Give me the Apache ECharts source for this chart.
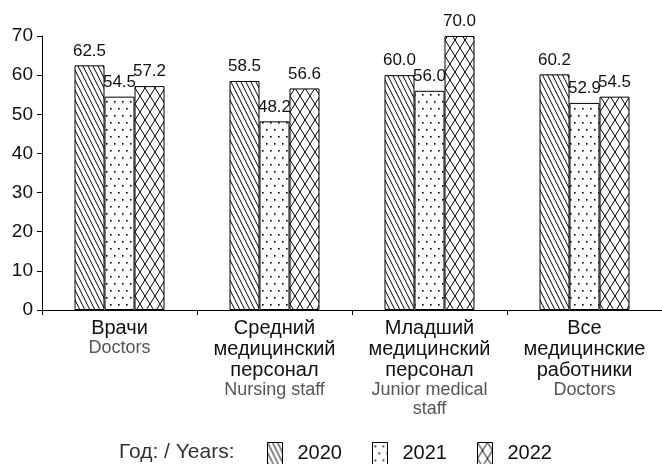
<!DOCTYPE html>
<html><head><meta charset="utf-8">
<script src="https://cdn.jsdelivr.net/npm/echarts@6/dist/echarts.min.js"></script>
<style>html,body{margin:0;padding:0;background:#fff}#c{width:662px;height:464px}</style>
</head><body><div id="c"></div>
<script>
const categoriesRu = ["Врачи", "Средний\nмедицинский\nперсонал", "Младший\nмедицинский\nперсонал", "Все\nмедицинские\nработники"];
const categoriesEn = ["Doctors", "Nursing staff", "Junior medical\nstaff", "Doctors"];
const years = ["2020", "2021", "2022"];
const v2020 = [62.5, 58.5, 60.0, 60.2];
const v2021 = [54.5, 48.2, 56.0, 52.9];
const v2022 = [57.2, 56.6, 70.0, 54.5];
const yTicks = [0, 10, 20, 30, 40, 50, 60, 70];

function pat(w, h, draw) {
  const c = document.createElement('canvas');
  c.width = w; c.height = h;
  const g = c.getContext('2d');
  g.fillStyle = '#fff'; g.fillRect(0, 0, w, h);
  g.strokeStyle = '#000'; g.fillStyle = '#000'; g.lineWidth = 1;
  draw(g);
  return { image: c, repeat: 'repeat' };
}
const pDiag = pat(5, 10, g => {
  g.beginPath();
  for (let k = -5; k <= 5; k += 5) { g.moveTo(k, 0); g.lineTo(k + 5, 10); }
  g.stroke();
});
const pDots = pat(8, 14, g => {
  g.fillRect(2, 3, 1.6, 1.6);
  g.fillRect(6, 10, 1.6, 1.6);
});
const pCross = pat(10, 16, g => {
  g.beginPath();
  g.moveTo(0, 0); g.lineTo(10, 16);
  g.moveTo(10, 0); g.lineTo(0, 16);
  g.stroke();
});
const patterns = [pDiag, pDots, pCross];
const values = [v2020, v2021, v2022];

const chart = echarts.init(document.getElementById('c'));
const ff = '"Liberation Sans", Arial, sans-serif';
chart.setOption({
  animation: false,
  textStyle: { fontFamily: ff },
  grid: { left: 42, width: 624, top: 36, bottom: 154 },
  graphic: [{ type: 'text', left: 119, top: 442, style: { text: 'Год: / Years:', font: '21px ' + ff, fill: '#333' } }],
  legend: {
    left: 267, top: 442, padding: 0, itemWidth: 15, itemHeight: 22, itemGap: 30,
    data: years.map((y, i) => ({ name: y, icon: 'rect', itemStyle: { color: patterns[i], borderColor: '#000', borderWidth: 1 } })),
    textStyle: { fontSize: 20, color: '#111', fontFamily: ff, padding: [0, 0, 0, 10] }
  },
  xAxis: {
    type: 'category',
    data: categoriesRu.map((r, i) => r + '\n{en|' + categoriesEn[i].split('\n').join('}\n{en|') + '}'),
    axisLine: { lineStyle: { color: '#000', width: 1 } },
    axisTick: { show: true, interval: 0, length: 5, lineStyle: { color: '#000' } },
    axisLabel: { interval: 0, color: '#111', fontSize: 20, lineHeight: 21, margin: 8, fontFamily: ff,
      rich: { en: { fontSize: 18, color: '#555', lineHeight: 19, fontFamily: ff } } }
  },
  yAxis: {
    type: 'value', min: 0, max: 70, interval: 10,
    axisLine: { show: true, lineStyle: { color: '#000' } },
    axisTick: { show: true, length: 5, lineStyle: { color: '#000' } },
    splitLine: { show: false },
    axisLabel: { color: '#111', fontSize: 19, margin: 9, fontFamily: ff,
      formatter: v => yTicks.includes(v) ? String(v) : '' }
  },
  series: years.map((y, i) => ({
    name: y, type: 'bar', barWidth: 30, barGap: '0%',
    data: values[i],
    itemStyle: { color: patterns[i], borderColor: '#000', borderWidth: 1 },
    label: { show: true, position: 'top', distance: 6, color: '#111', fontSize: 17, fontFamily: ff,
      formatter: p => p.value.toFixed(1) }
  }))
});
</script></body></html>
